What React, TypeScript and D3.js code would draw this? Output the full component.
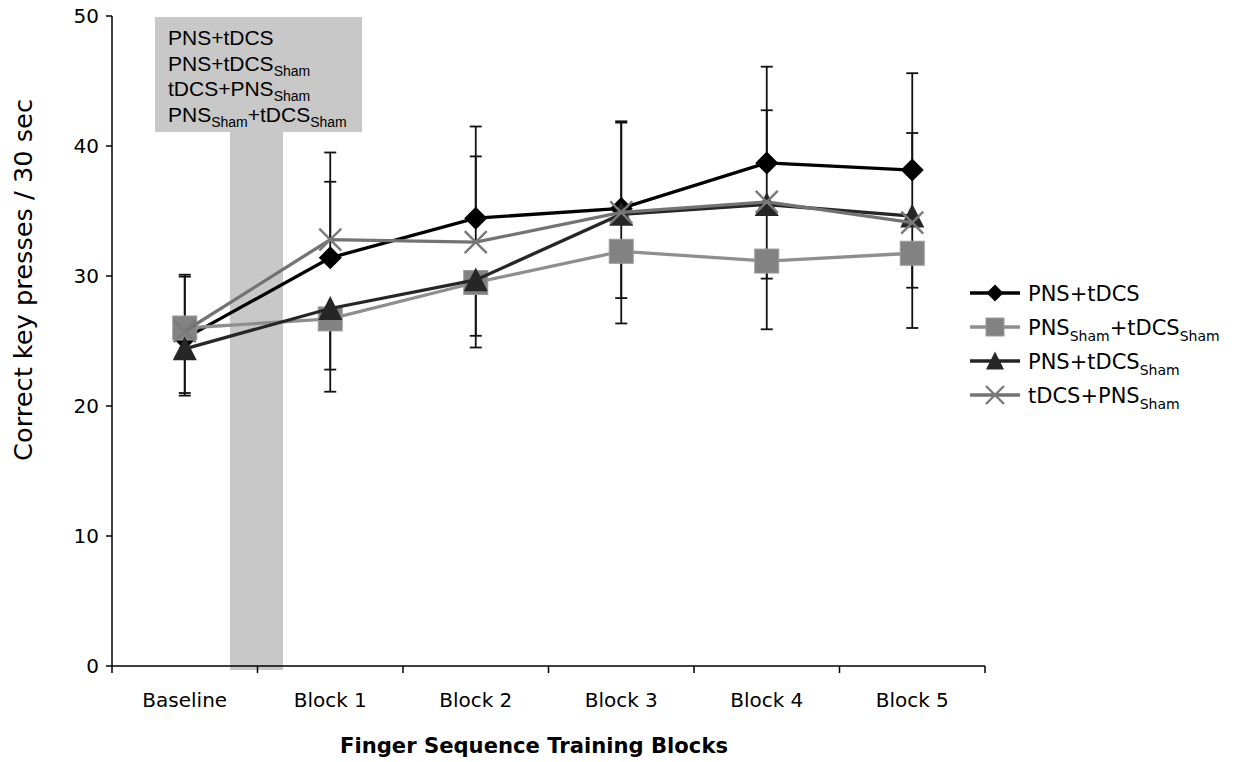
import React from "react";
import * as d3 from "d3";

// ---------- data ----------
const categories = ["Baseline", "Block 1", "Block 2", "Block 3", "Block 4", "Block 5"];
const pnsTdcs = [25.2, 31.4, 34.45, 35.2, 38.7, 38.15];
const pnsShamTdcsSham = [26.0, 26.7, 29.5, 31.9, 31.15, 31.75];
const pnsTdcsSham = [24.4, 27.5, 29.7, 34.75, 35.5, 34.6];
const tdcsPnsSham = [25.75, 32.8, 32.6, 34.9, 35.7, 34.1];
// error bar end points
const pnsTdcsUpper = [30.1, 39.5, 41.5, 41.9, 46.1, 45.6];
const tdcsPnsShamUpper = [29.95, 37.25, 39.2, 41.8, 42.75, 41.0];
const pnsTdcsShamLower = [21.0, 22.8, 25.4, 28.3, 29.8, 29.1];
const pnsShamTdcsShamLower = [20.8, 21.1, 24.5, 26.35, 25.9, 26.0];
const yTicks = [0, 10, 20, 30, 40, 50];

type Seg = [string, boolean];
const labelPnsTdcs: Seg[] = [["PNS+tDCS", false]];
const labelShamSham: Seg[] = [["PNS", false], ["Sham", true], ["+tDCS", false], ["Sham", true]];
const labelPnsTdcsSham: Seg[] = [["PNS+tDCS", false], ["Sham", true]];
const labelTdcsPnsSham: Seg[] = [["tDCS+PNS", false], ["Sham", true]];

const boxLines: Seg[][] = [labelPnsTdcs, labelPnsTdcsSham, labelTdcsPnsSham, labelShamSham];

type Series = {
  name: Seg[];
  values: number[];
  line: string;
  marker: "diamond" | "square" | "triangle" | "x";
  fill: string;
};

const series: Series[] = [
  { name: labelPnsTdcs, values: pnsTdcs, line: "#000000", marker: "diamond", fill: "#000000" },
  { name: labelShamSham, values: pnsShamTdcsSham, line: "#8e8e8e", marker: "square", fill: "#828282" },
  { name: labelPnsTdcsSham, values: pnsTdcsSham, line: "#262626", marker: "triangle", fill: "#262626" },
  { name: labelTdcsPnsSham, values: tdcsPnsSham, line: "#737373", marker: "x", fill: "#7a7a7a" },
];

const errorBars = [
  { base: pnsTdcs, end: pnsTdcsUpper },
  { base: tdcsPnsSham, end: tdcsPnsShamUpper },
  { base: pnsTdcsSham, end: pnsTdcsShamLower },
  { base: pnsShamTdcsSham, end: pnsShamTdcsShamLower },
];

// ---------- layout ----------
const W = 1242;
const H = 762;
const left = 112;
const right = 985;
const top = 16;
const bottom = 666;
const VERDANA = "'DejaVu Sans', Verdana, sans-serif";
const ARIAL = "'Liberation Sans', Arial, sans-serif";

function Rich({ segs, x, y, size, subSize, shift, family }: { segs: Seg[]; x: number; y: number; size: number; subSize: number; shift: number; family: string }) {
  let prevSub = false;
  return (
    <text x={x} y={y} fontSize={size} fontFamily={family} fill="#000">
      {segs.map((s, i) => {
        let dy = 0;
        if (s[1] && !prevSub) dy = shift;
        if (!s[1] && prevSub) dy = -shift;
        prevSub = s[1];
        return (
          <tspan key={i} dy={dy} fontSize={s[1] ? subSize : size}>
            {s[0]}
          </tspan>
        );
      })}
    </text>
  );
}

function Marker({ kind, x, y, r, fill }: { kind: string; x: number; y: number; r: number; fill: string }) {
  if (kind === "diamond") {
    return <path d={`M${x},${y - r}L${x + r},${y}L${x},${y + r}L${x - r},${y}Z`} fill={fill} />;
  }
  if (kind === "square") {
    return <rect x={x - r} y={y - r} width={2 * r} height={2 * r} fill={fill} stroke="#9a9a9a" strokeWidth={1} />;
  }
  if (kind === "triangle") {
    const h = r * 1.9;
    return <path d={`M${x},${y - h / 2 - 1}L${x + r},${y + h / 2}L${x - r},${y + h / 2}Z`} fill={fill} />;
  }
  return (
    <path
      d={`M${x - r},${y - r}L${x + r},${y + r}M${x - r},${y + r}L${x + r},${y - r}`}
      stroke={fill}
      strokeWidth={2.4}
      fill="none"
    />
  );
}

export default function App() {
  const x = d3.scaleBand<string>().domain(categories).range([left, right]).padding(0);
  const y = d3.scaleLinear().domain([0, 50]).range([bottom, top]);
  const cx = (c: string) => (x(c) as number) + x.bandwidth() / 2;

  const lineGen = (vals: number[]) =>
    d3
      .line<number>()
      .x((_, i) => cx(categories[i]))
      .y((v) => y(v))(vals) as string;

  const barX = x(categories[1]) as number;
  const markerR: Record<string, number> = { diamond: 11.5, square: 12, triangle: 12, x: 11 };
  const legendR: Record<string, number> = { diamond: 8.5, square: 9, triangle: 9, x: 9 };
  const boundaries = [...categories.map((c) => x(c) as number), right];

  return (
    <svg width={W} height={H} style={{ position: "absolute", left: 0, top: 0, background: "#fff" }}>
      {/* stimulation period shading */}
      <rect x={barX - 27.5} y={130} width={53} height={bottom - 130 + 4} fill="#c8c8c8" />
      <rect x={155} y={17} width={207} height={115} fill="#c8c8c8" />
      {boxLines.map((segs, i) => (
        <Rich key={i} segs={segs} x={168} y={45 + i * 25.7} size={21} subSize={14} shift={5} family={ARIAL} />
      ))}

      {/* axes */}
      <line x1={left} x2={left} y1={top} y2={bottom} stroke="#000" strokeWidth={1.5} />
      {yTicks.map((t) => (
        <g key={t}>
          <line x1={left - 6} x2={left} y1={y(t)} y2={y(t)} stroke="#000" strokeWidth={1.5} />
          <text x={99} y={y(t)} dy="0.36em" textAnchor="end" fontSize={20} fontFamily={VERDANA}>
            {t}
          </text>
        </g>
      ))}
      <line x1={left} x2={right} y1={bottom} y2={bottom} stroke="#000" strokeWidth={1.5} />
      {boundaries.map((b, i) => (
        <line key={i} x1={b} x2={b} y1={bottom} y2={bottom + 7} stroke="#000" strokeWidth={1.5} />
      ))}
      {categories.map((c) => (
        <text key={c} x={cx(c)} y={700} dy="0.36em" textAnchor="middle" fontSize={20} fontFamily={VERDANA}>
          {c}
        </text>
      ))}
      <text x={534} y={745} dy="0.36em" textAnchor="middle" fontSize={22} fontWeight="bold" fontFamily={VERDANA} textLength={388} lengthAdjust="spacingAndGlyphs">
        Finger Sequence Training Blocks
      </text>
      <text
        transform={`translate(23,280) rotate(-90)`}
        dy="0.36em"
        textAnchor="middle"
        fontSize={24}
        fontFamily={VERDANA}
        textLength={362}
        lengthAdjust="spacingAndGlyphs"
      >
        Correct key presses / 30 sec
      </text>

      {/* error bars */}
      {errorBars.map((eb, si) =>
        eb.end.map((e, i) => {
          const px = cx(categories[i]);
          return (
            <g key={`${si}-${i}`} stroke="#111" strokeWidth={1.8}>
              <line x1={px} x2={px} y1={y(eb.base[i])} y2={y(e)} />
              <line x1={px - 6} x2={px + 6} y1={y(e)} y2={y(e)} />
            </g>
          );
        })
      )}

      {/* series */}
      {series.map((s, si) => (
        <g key={si}>
          <path d={lineGen(s.values)} fill="none" stroke={s.line} strokeWidth={3.3} />
          {s.values.map((v, i) => (
            <Marker key={i} kind={s.marker} x={cx(categories[i])} y={y(v)} r={markerR[s.marker]} fill={s.fill} />
          ))}
        </g>
      ))}

      {/* legend */}
      {series.map((s, i) => {
        const ly = 293 + i * 34;
        return (
          <g key={i}>
            <line x1={970} x2={1020} y1={ly} y2={ly} stroke={s.line} strokeWidth={3.3} />
            <Marker kind={s.marker} x={995} y={ly} r={legendR[s.marker]} fill={s.fill} />
            <Rich segs={s.name} x={1028} y={ly + 7.5} size={21} subSize={14} shift={6} family={VERDANA} />
          </g>
        );
      })}
    </svg>
  );
}
